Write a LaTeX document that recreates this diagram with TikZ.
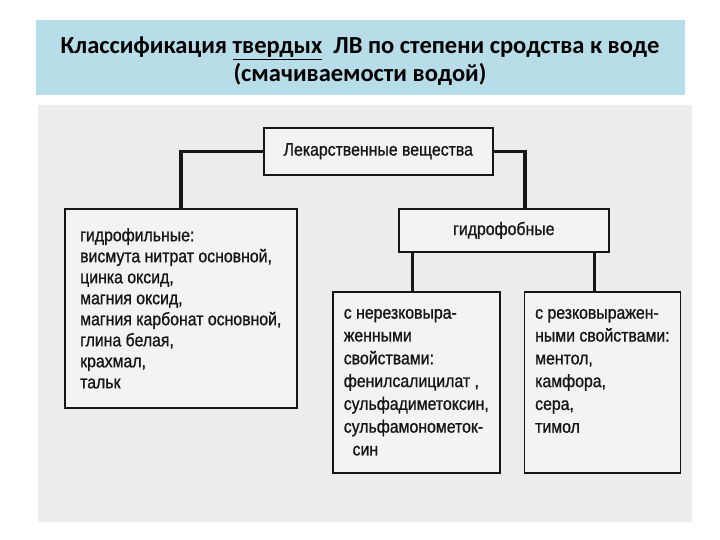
\documentclass[tikz,border=0pt]{standalone}
\usepackage{fontspec}
\setmainfont{Liberation Sans}
\newfontfamily\titlefont{Carlito}
\newfontfamily\scanfont[FakeStretch=0.88, FakeBold=1]{Liberation Sans}
\usetikzlibrary{positioning, calc}
\definecolor{banner}{RGB}{183,221,232}
\definecolor{scan}{RGB}{236,236,236}
\definecolor{paper}{RGB}{243,243,243}
\definecolor{ink}{RGB}{22,22,22}

\begin{document}
\begin{tikzpicture}[x=1pt, y=-1pt,
  box/.style={draw=ink, line width=1.6pt, fill=paper, inner sep=0pt, anchor=north west,
    align=left, text=ink, font=\scanfont\fontsize{18}{#1}\selectfont},
  box/.default=21,
  link/.style={draw=ink, line width=#1},
  link/.default=3pt
]
\fill[white] (0,0) rectangle (720,540);
\useasboundingbox (0,0) rectangle (720,540);
\fill[banner] (36,20) rectangle (685,95);
\fill[scan] (38,105) rectangle (692,522);

\node[font=\titlefont\bfseries\fontsize{24.5}{28}\selectfont, align=center] (title) at (360,61)
  {Классификация \underline{твердых}\ \ ЛВ по степени сродства к воде\\(смачиваемости водой)};

\node[box, minimum width=229pt, minimum height=47pt, align=center] (drugs) at (263,127)
  {Лекарственные вещества};
\node[box, minimum width=232pt, minimum height=199pt] (phil) at (64,208)
  {гидрофильные:\\висмута нитрат основной,\\цинка оксид,\\магния оксид,\\магния карбонат основной,\\глина белая,\\крахмал,\\тальк};
\node[box, minimum width=210pt, minimum height=43pt, align=center] (phob) at (398,208)
  {гидрофобные};
\node[box=22.8, minimum width=167pt, minimum height=181pt] (weak) at (332,291)
  {с нерезковыра-\\женными\\свойствами:\\фенилсалицилат ,\\сульфадиметоксин,\\сульфамонометок-\\\ \ син};
\node[box=22.8, minimum width=156pt, minimum height=181pt, right=23pt of weak] (strong)
  {с резковыражен-\\ными свойствами:\\ментол,\\камфора,\\сера,\\тимол\\\mbox{}};

\draw[link=3.5pt] (drugs.west) -| (phil.north);
\draw[link=3.5pt] (drugs.east) -| ($(phob.north west)!0.6!(phob.north east)$);
\draw[link] ($(phob.south west)!0.067!(phob.south east)$) coordinate (p1) -- (p1 |- weak.north);
\draw[link] ($(phob.south west)!0.93!(phob.south east)$) coordinate (p2) -- (p2 |- strong.north);
\end{tikzpicture}
\end{document}
